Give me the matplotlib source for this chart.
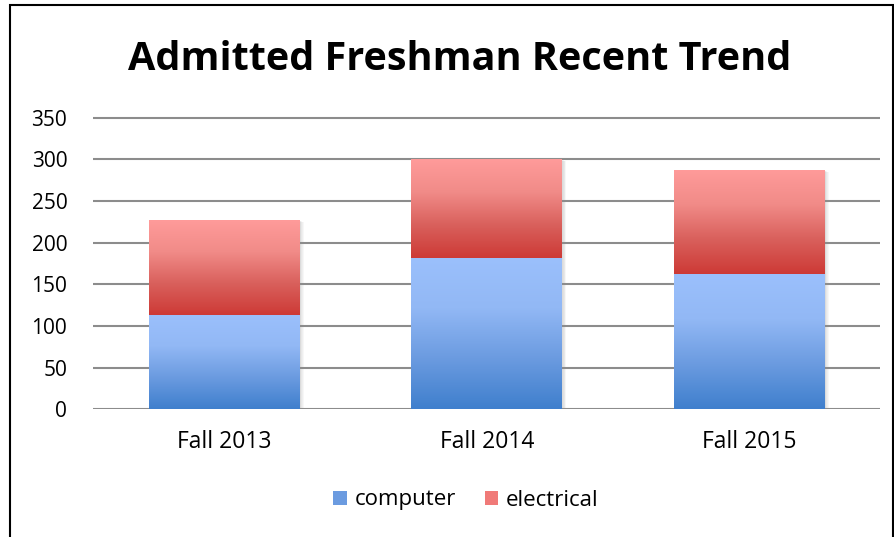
import numpy as np
import matplotlib
matplotlib.use("Agg")
import matplotlib.pyplot as plt
from matplotlib.colors import LinearSegmentedColormap
from matplotlib.patches import Rectangle, Patch

plt.rcParams['font.family'] = ['Open Sans', 'DejaVu Sans']

years = ['Fall 2013', 'Fall 2014', 'Fall 2015']
computer = [113, 182, 162]
electrical = [114, 118, 125]

fig = plt.figure(figsize=(8.95, 5.37), dpi=100)
ax = fig.add_axes([93/895, 1 - 409.3/537, (880.75 - 93.25)/895, 291.6/537 * 400/350])

# gridlines
for v in range(0, 351, 50):
    ax.axhline(v, color='#8c8c8c', lw=1.5, zorder=0)

blue = LinearSegmentedColormap.from_list('b', ['#3f7fcd', '#6b9be0', '#92b8f5', '#9bc0fc'])
red = LinearSegmentedColormap.from_list('r', ['#cd3a36', '#d9605c', '#f18b88', '#ff9b9a'])
grad = np.linspace(0, 1, 256).reshape(-1, 1)

x = np.arange(len(years))
w = 0.575
bars_c = ax.bar(x, computer, w, color='none', zorder=2)
bars_e = ax.bar(x, electrical, w, bottom=computer, color='none', zorder=2)

for bars, cmap in [(bars_c, blue), (bars_e, red)]:
    for b in bars:
        x0, y0 = b.get_x(), b.get_y()
        bw, bh = b.get_width(), b.get_height()
        # soft shadow to the right / below
        for k in range(1, 6):
            ax.add_patch(Rectangle((x0 + 0.003 * k, y0 - 0.5 * k), bw, bh, color='#909090',
                                   alpha=0.07, zorder=1, lw=0))
        im = ax.imshow(grad, cmap=cmap, origin='lower', aspect='auto',
                       extent=[x0, x0 + bw, y0, y0 + bh], zorder=2)
        im.set_clip_path(b)

ax.set_ylim(0, 400)
ax.set_xlim(-0.5, 2.5)
ax.set_yticks(range(0, 351, 50))
ax.set_xticks(x)
ax.set_xticklabels(years)
ax.tick_params(length=0, colors='black')
ax.tick_params(axis='y', pad=18.5, labelsize=15)
ax.tick_params(axis='x', pad=15, labelsize=16.5)
for s in ax.spines.values():
    s.set_visible(False)

fig.text(460/895, 1 - 60/537, 'Admitted Freshman Recent Trend', ha='center', va='center',
         fontsize=28.5, fontweight='bold')

handles = [Patch(facecolor='#6b9be0', label='computer'), Patch(facecolor='#f07a78', label='electrical')]
fig.legend(handles=handles, loc='center', bbox_to_anchor=(466/895, 1 - 500/537), ncol=2,
           frameon=False, fontsize=16, handlelength=0.6, handleheight=0.6, columnspacing=1.3,
           handletextpad=0.35)

# chart border
fig.add_artist(Rectangle((10/895, -0.1), 883/895, 1.1 - 5/537, transform=fig.transFigure,
                         fill=False, ec='black', lw=1.5))

fig.savefig('out.png', dpi=100)
